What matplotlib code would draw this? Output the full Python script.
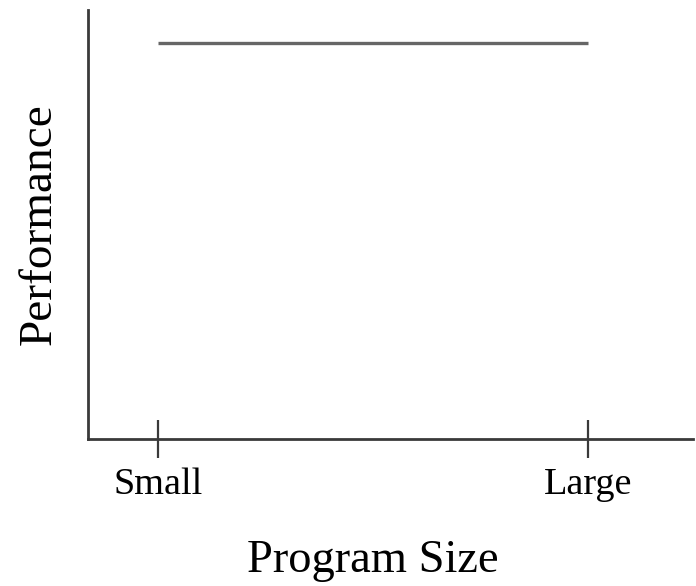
import matplotlib.pyplot as plt

# data: flat performance across program size
sizes = [0, 1]
size_labels = ["Small", "Large"]
performance = [0.923, 0.923]

plt.rcParams["font.family"] = ["Liberation Serif", "DejaVu Serif"]

fig = plt.figure(figsize=(6.96, 5.86), dpi=100)
ax = fig.add_axes([0.1264, 0.2509, 0.869, 0.732])

ax.plot(sizes, performance, color="#666666", lw=2.4, solid_capstyle="butt")

ax.set_xlim(-0.1628, 1.2442)
ax.set_ylim(0, 1)

for side in ("top", "right"):
    ax.spines[side].set_visible(False)
for side in ("left", "bottom"):
    ax.spines[side].set_color("#3a3a3a")
    ax.spines[side].set_linewidth(2.0)

ax.set_xticks(sizes)
ax.set_xticklabels(size_labels)
ax.set_yticks([])
ax.tick_params(axis="x", direction="inout", length=27, width=1.6,
               color="#3a3a3a", labelsize=27.5, pad=7)

ax.set_xlabel("Program Size", fontsize=33.5, labelpad=27)
# centre the label between the two ticks rather than on the axes
ax.xaxis.label.set_x(0.471)
ax.set_ylabel("Performance", fontsize=34, labelpad=20)

fig.savefig("out.png", dpi=100)
